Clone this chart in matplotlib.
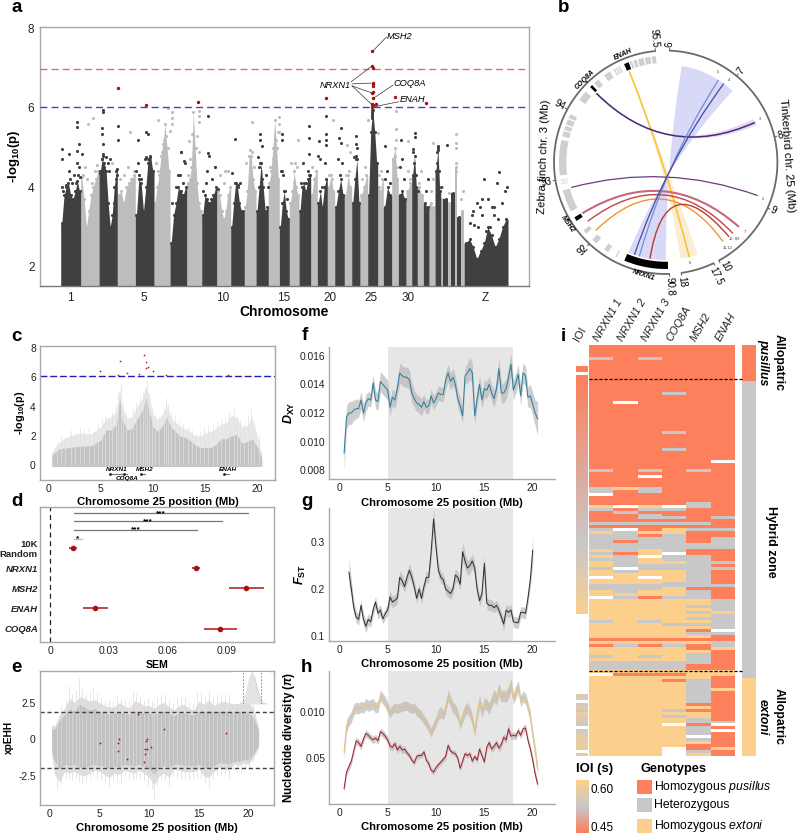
import numpy as np
import matplotlib
matplotlib.use('Agg')
import matplotlib.pyplot as plt
from matplotlib.colors import LinearSegmentedColormap, ListedColormap
from matplotlib.patches import PathPatch, Rectangle
from matplotlib.path import Path

plt.rcParams['font.family'] = ['Liberation Sans', 'DejaVu Sans']
plt.rcParams['mathtext.fontset'] = 'custom'
plt.rcParams['mathtext.rm'] = 'Liberation Sans'
plt.rcParams['mathtext.it'] = 'Liberation Sans:italic'
plt.rcParams['mathtext.bf'] = 'Liberation Sans:bold'
plt.rcParams['mathtext.bfit'] = 'Liberation Sans:italic:bold'

W, H = 800, 834
DARK = '#404040'
LIGHT = '#bdbdbd'
RED = '#a50f15'
C_PUS = '#fd7f5c'
C_HET = '#c8c8c8'
C_EXT = '#fdcf8c'

# panel a - chromosome borders and top of the solid mass, per chromosome
chrom_edges = [60.7, 80.7, 99, 117.3, 135.3, 154, 170, 186.7, 201.7, 216.7, 230.7, 244.3, 256, 268.3,
               279.3, 289.3, 299, 310.7, 317.3, 327.3, 334.7, 344.3, 351.7, 360, 367.7, 377.7, 383.3,
               391.7, 398.3, 406, 411.7, 417.3, 423.3, 429, 435, 440.7, 443.3, 447.7, 451, 454.7,
               457.3, 460.7, 464, 508]
chrom_tops = [
    [3.1, 3.8, 4.0, 4.1, 3.8, 3.7, 3.9, 4.15, 3.9], [4.25, 3.7, 3.0, 3.4, 3.8, 4.0, 4.2, 4.4],
    [4.35, 4.7, 4.6, 4.4, 3.6, 3.0, 3.3, 4.0, 4.4], [3.8, 3.9, 3.6, 4.0, 4.1, 4.2, 4.3],
    [3.3, 4.2, 4.1, 3.4, 4.0, 4.7, 4.8, 4.4], [3.6, 4.0, 4.3, 4.8, 5.1, 5.6, 5.0, 4.4],
    [2.6, 3.3, 3.6, 4.0, 3.9, 3.8, 4.0], [4.1, 4.2, 4.5, 5.9, 5.0, 4.1, 3.6, 3.4],
    [3.3, 3.8, 3.7, 3.6, 3.7, 3.8, 4.0], [3.9, 3.8, 3.4, 3.2, 3.4, 3.8, 4.0],
    [3.0, 3.6, 4.1, 4.0, 3.6, 3.4, 3.4], [3.5, 3.9, 4.8, 4.8, 4.2, 3.9],
    [3.4, 4.0, 4.6, 4.0, 3.4, 3.5], [4.1, 4.4, 5.0, 5.7, 5.0, 4.2],
    [3.0, 3.6, 3.9, 3.4, 3.2], [3.6, 3.9, 4.4, 4.0, 3.8],
    [3.4, 4.0, 4.1, 3.9, 4.2, 4.3], [3.8, 4.2, 4.4],
    [3.6, 3.9, 3.5, 4.0, 4.2], [4.0, 4.3, 3.9],
    [3.5, 3.9, 4.2, 3.8], [3.8, 4.3, 4.0],
    [3.6, 4.2, 4.7, 3.6], [3.8, 4.0, 4.3],
    [3.8, 5.4, 5.95, 5.4, 4.6], [4.0, 3.9, 4.2],
    [3.5, 4.0, 3.8], [4.7, 5.0, 4.2],
    [3.8, 3.9, 3.7], [3.9, 4.1],
    [4.3, 4.8, 4.0], [4.0, 3.8],
    [3.6, 3.5], [3.6, 3.5],
    [4.4, 5.0, 3.9], [3.7],
    [3.7], [3.6],
    [3.85], [4.5],
    [3.25], [3.4],
    [2.6, 2.7, 2.5, 2.2, 2.4, 2.6, 3.0, 2.8, 2.5, 2.7, 3.0, 3.2],
]
a_tick_pos = [70, 143.3, 222.3, 284, 329.7, 370.7, 407.7, 485.7]
a_tick_lab = ['1', '5', '10', '15', '20', '25', '30', 'Z']
a_dark_x = [62.3, 62.3, 69.3, 77.3, 77.3, 79.3, 77.3, 81.7, 102.7, 102.7, 101.7, 101.7, 103.3, 103.3, 118, 118,
            138.3, 146, 148.3, 181, 208.3, 235.3, 208.3, 184.3, 260, 260, 261.7, 281.7, 282.3, 282.3, 308.7,
            308.7, 309, 326, 326, 326, 326, 319.3, 340.7, 339.3, 340.7, 356, 356, 356, 385, 401, 415, 415,
            413.3, 437.7, 437.7, 447.3, 484, 499, 496.7, 481.7, 488.3, 372, 372, 372, 372, 372, 472, 477, 494,
            62, 63, 66, 70, 72, 74, 76, 78, 79, 80, 69, 77,
            100, 102, 103, 104, 106, 108, 109, 110, 117, 117, 116, 115, 114,
            136, 138, 139, 141, 145, 146, 148, 150, 152, 149,
            172, 176, 178, 180, 183, 185, 181, 203, 206, 207, 209, 212, 215, 218,
            235, 238, 240, 232, 258, 259, 260, 262, 266, 268, 281, 283, 285, 287,
            301, 303, 306, 308, 309, 318, 320, 322, 325, 338, 340, 342, 354, 356, 357,
            385, 387, 390, 400, 402, 404, 413, 414, 416, 418, 426, 428, 437, 437, 439, 441,
            470, 474, 478, 482, 486, 490, 494, 498, 502, 505, 507, 473, 480, 492]
a_dark_y = [4.96, 4.7, 4.83, 5.65, 5.52, 5.08, 4.92, 4.83, 5.9, 5.95, 5.48, 5.35, 5.1, 4.85, 5.55, 5.2,
            5.2, 5.38, 5.33, 4.9, 5.8, 5.22, 4.87, 4.65, 5.33, 5.2, 5.05, 5.33, 5.2, 4.4, 5.55,
            5.23, 4.85, 5.8, 5.33, 5.2, 5.07, 5.17, 5.5, 5.25, 5.12, 5.3, 5.08, 4.8, 5.05, 5.2, 5.37, 5.27,
            4.96, 5.03, 4.95, 5.07, 4.22, 4.39, 4.1, 3.7, 3.7, 5.95, 5.9, 5.85, 5.8, 5.75, 3.3, 3.6, 3.5,
            4.0, 3.9, 4.05, 4.2, 4.1, 4.3, 4.1, 4.3, 4.5, 4.25, 4.4, 4.6,
            4.4, 4.7, 4.8, 4.5, 4.75, 4.6, 4.4, 4.7, 4.3, 4.45, 4.2, 4.0, 3.6,
            4.4, 4.6, 4.3, 4.2, 4.7, 4.75, 4.6, 4.75, 4.4, 4.5,
            3.6, 4.0, 4.3, 4.3, 4.1, 4.6, 4.9, 3.9, 4.1, 4.4, 4.8, 4.2, 4.5, 3.95,
            4.1, 4.05, 4.1, 4.35, 4.75, 4.5, 4.6, 4.2, 4.3, 4.0, 4.4, 4.3, 3.9, 3.7,
            4.1, 4.6, 4.1, 4.4, 4.3, 4.8, 4.7, 4.0, 4.6, 4.7, 4.3, 4.6, 4.75, 4.7, 5.0,
            4.2, 4.4, 4.1, 4.5, 4.7, 4.2, 4.9, 4.6, 4.3, 3.9, 3.9, 4.2, 4.9, 4.6, 4.4, 4.0,
            3.1, 3.05, 3.0, 3.3, 2.9, 3.0, 3.3, 3.2, 3.6, 3.9, 4.0, 3.4, 3.5, 3.5]
a_light_x = [88.3, 93.3, 130, 158.3, 167.7, 171.7, 171.7, 171.7, 170, 199.3, 199.3, 199.3, 197.3, 189.3, 191.7,
             252, 279.3, 279.3, 279.3, 298.3, 333.3, 346.7, 368.3, 377.7, 395.7, 395.7, 395.7, 408.3, 433.3,
             455.7, 455.7, 112, 150, 215, 225, 295, 350,
             83, 85, 87, 92, 95, 97, 120, 124, 128, 132, 134, 156, 158, 162, 164, 166, 168, 188, 190, 194, 196,
             199, 220, 224, 228, 246, 250, 252, 254, 270, 273, 276, 278, 291, 294, 297, 312, 315, 329, 332, 346,
             349, 362, 365, 379, 381, 393, 395, 397, 408, 410, 419, 421, 431, 433, 442, 449, 456, 456, 456, 461, 463]
a_light_y = [5.58, 5.75, 5.4, 5.7, 6.0, 5.9, 5.75, 5.6, 5.42, 5.92, 5.8, 5.65, 5.3, 5.17, 5.33,
             5.64, 5.78, 5.6, 5.4, 5.18, 5.7, 5.07, 5.7, 5.37, 5.92, 5.47, 5.2, 5.17, 5.12,
             5.35, 5.12, 4.6, 4.7, 4.5, 4.4, 4.6, 4.9,
             4.3, 4.5, 4.2, 4.1, 4.4, 4.55, 4.2, 4.3, 4.5, 4.2, 4.4, 4.6, 4.4, 4.9, 5.2, 5.3, 5.0, 4.3, 4.7, 4.7, 5.0,
             4.9, 4.3, 4.1, 4.4, 4.6, 4.95, 4.9, 4.5, 4.5, 4.7, 5.2, 5.4, 4.6, 4.1, 4.5, 4.5, 4.2, 4.3, 4.2, 4.3,
             4.4, 4.2, 4.5, 4.3, 4.4, 4.7, 4.8, 4.5, 4.4, 4.2, 4.1, 4.4, 3.9, 4.2, 4.0, 3.85, 5.0, 4.6, 4.4, 3.7, 3.9]
a_red_x = [118.3, 146, 198.3, 326.3, 395, 426, 372.3, 372.3, 372.8, 372.6, 372.6, 372.6, 372, 373, 372.5, 372,
           373, 372.3, 375.7]
a_red_y = [6.5, 6.08, 6.15, 6.24, 6.28, 6.12, 7.42, 7.05, 7.0, 6.62, 6.6, 6.55, 6.38, 6.39, 6.24, 6.1, 6.08, 6.03, 6.1]

# panel c
c_x = [0.3, 1, 2, 3, 4, 5, 5.5, 6, 6.5, 6.8, 7, 7.5, 8, 8.5, 9, 9.3, 9.7, 10, 10.5, 11, 11.3, 11.7, 12, 12.5,
       13, 13.5, 14, 14.5, 15, 15.5, 16, 16.5, 17, 17.5, 18, 18.5, 19, 19.5, 20, 20.4]
c_solid = [0.7, 1.1, 1.2, 1.3, 1.3, 1.7, 2.4, 2.4, 2.8, 4.6, 3.2, 2.4, 2.5, 3.2, 3.8, 4.6, 3.5, 2.6, 2.3, 2.8,
           3.3, 2.6, 2.4, 2.0, 1.9, 1.7, 1.4, 1.2, 1.2, 1.2, 1.4, 1.8, 1.8, 2.0, 2.1, 1.5, 1.6, 1.8, 1.2, 0.5]
c_faint = [0.9, 1.6, 2.0, 2.2, 2.1, 2.6, 3.2, 3.3, 3.7, 5.3, 4.1, 3.2, 3.3, 4.1, 4.6, 5.4, 4.5, 3.4, 3.1, 3.6,
           4.1, 3.3, 3.0, 2.7, 2.5, 2.3, 2.0, 2.0, 2.2, 2.3, 2.5, 2.8, 2.9, 3.4, 3.3, 2.6, 2.7, 3.3, 1.9, 0.8]
c_sp_x = [0.8, 1.2, 1.6, 2.1, 2.5, 3, 3.4, 3.9, 4.3, 4.7, 5.1, 5.4, 5.8, 6.1, 6.4, 6.6, 6.9, 7.1, 7.4, 7.8, 8.1, 8.4,
          8.7, 9.0, 9.2, 9.4, 9.6, 9.9, 10.2, 10.6, 11, 11.2, 11.4, 11.7, 12.1, 12.5, 12.9, 13.3, 13.7, 14.1, 14.5,
          14.9, 15.3, 15.7, 16.1, 16.5, 16.9, 17.3, 17.7, 18, 18.3, 18.7, 19.1, 19.4, 19.7, 20.1]
c_sp_y = [1.5, 2.0, 1.9, 2.4, 2.2, 2.6, 2.4, 2.5, 2.3, 2.8, 3.2, 3.4, 3.1, 3.6, 4.1, 5.0, 5.6, 4.4, 3.5, 3.3, 3.8, 4.3,
          4.7, 5.0, 5.4, 5.8, 4.9, 3.9, 3.5, 3.3, 4.0, 4.6, 4.2, 3.6, 3.4, 3.0, 2.8, 2.6, 2.4, 2.2, 2.3,
          2.6, 2.7, 2.8, 3.0, 3.2, 3.2, 3.6, 3.9, 3.3, 3.0, 2.9, 3.4, 3.9, 2.6, 2.0]
c_red_x = [4.94, 6.8, 6.67, 7.53, 8.64, 9.15, 9.3, 9.3, 9.47, 9.95, 11.2, 17.16]
c_red_y = [6.42, 7.13, 6.15, 6.31, 6.2, 7.52, 7.08, 6.67, 6.7, 6.45, 6.17, 6.15]
gene_names = ['NRXN1', 'COQ8A', 'MSH2', 'ENAH']
gene_x = [6.5, 7.5, 9.15, 17.15]
gene_y = [-0.34, -0.92, -0.34, -0.34]
gene_start = [5.87, 7.2, 8.8, 16.8]
gene_end = [7.5, 7.5, 9.2, 17.3]

# panel d
d_labels = ['COQ8A', 'ENAH', 'MSH2', 'NRXN1', '10K\nRandom']
d_mean = [0.0867, 0.0228, 0.1, 0.0743, 0.0117]
d_low = [0.0783, 0.0165, 0.091, 0.0722, 0.0097]
d_high = [0.0954, 0.0295, 0.1092, 0.0765, 0.0137]
d_br_end = [0.1007, 0.0874, 0.0748, 0.016]
d_br_y = [5.72, 5.32, 4.9, 4.45]
d_br_txt = ['***', '***', '***', '*']

# panel e
e_x = [0.2, 0.5, 1, 1.5, 2, 2.5, 3, 3.5, 4, 4.5, 5, 5.5, 6, 6.5, 7, 7.5, 8, 8.5, 9, 9.5, 10, 10.5, 11, 11.5,
       12, 12.5, 13, 13.5, 14, 14.5, 15, 15.5, 16, 16.5, 17, 17.5, 18, 18.5, 19, 19.5, 20, 20.5, 21]
e_up = [1.0, 0.9, 1.7, 2.1, 2.8, 2.5, 2.9, 2.8, 2.6, 2.7, 2.5, 2.3, 2.2, 2.2, 2.5, 2.3, 2.1, 2.6, 2.5, 2.3, 2.3,
        2.1, 2.4, 2.5, 2.2, 2.0, 2.3, 2.4, 2.1, 2.0, 2.6, 2.4, 2.7, 2.3, 2.5, 2.6, 2.5, 2.4, 2.6, 2.4, 2.5, 2.1, 0.8]
e_low = [-1.0, -2.4, -2.9, -2.2, -2.3, -2.2, -2.4, -2.5, -2.3, -2.1, -2.2, -2.4, -2.6, -2.3, -2.4, -2.1, -2.2,
         -2.3, -2.1, -2.3, -2.6, -3.1, -2.5, -2.3, -2.6, -2.0, -2.1, -2.2, -2.2, -2.2, -2.0, -2.5, -2.6, -2.2,
         -1.9, -2.0, -2.1, -1.7, -1.8, -1.6, -1.7, -1.2, -0.6]
e_core_up = [0.7, 0.7, 1.3, 1.7, 2.1, 1.9, 2.4, 2.2, 2.0, 2.1, 1.9, 1.8, 1.7, 1.8, 1.9, 1.8, 1.7, 1.9, 1.9, 1.8, 1.8,
             1.7, 1.8, 1.9, 1.8, 1.6, 1.8, 1.8, 1.7, 1.7, 1.9, 1.8, 2.0, 1.8, 1.9, 1.9, 1.9, 1.8, 1.9, 1.8, 1.8, 1.5, 0.6]
e_core_low = [-0.8, -1.5, -2.0, -1.7, -1.8, -1.7, -1.9, -1.9, -1.8, -1.7, -1.8, -1.8, -2.0, -1.8, -1.9, -1.7, -1.8,
              -1.8, -1.7, -1.9, -2.0, -2.4, -1.9, -1.8, -1.9, -1.7, -1.7, -1.8, -1.8, -1.8, -1.7, -1.9, -2.0, -1.8,
              -1.6, -1.6, -1.7, -1.5, -1.5, -1.4, -1.4, -1.0, -0.4]
e_sp_x = [0.7, 1.1, 1.6, 1.9, 2.2, 2.6, 3.0, 3.3, 3.7, 4.1, 4.4, 4.8, 5.2, 5.6, 6.0, 6.4, 6.8, 7.2, 7.6, 8, 8.4, 8.7,
          9.1, 9.5, 9.9, 10.3, 10.5, 10.8, 11.2, 11.6, 12, 12.4, 12.8, 13.2, 13.6, 14, 14.4, 14.8, 15.2, 15.6, 16,
          16.4, 16.8, 17.2, 17.6, 18, 18.4, 18.8, 19.2, 19.6, 20, 20.4]
e_sp_hi = [1.2, 2.2, 2.7, 3.6, 3.1, 3.3, 4.2, 3.4, 3.0, 3.2, 3.5, 3.1, 2.8, 2.6, 2.7, 2.6, 3.0, 2.8, 2.7, 2.6, 3.3, 3.1,
           2.9, 2.7, 2.8, 2.6, 2.5, 2.9, 3.1, 3.0, 2.7, 2.5, 2.8, 2.9, 2.9, 2.5, 2.4, 3.2, 3.2, 2.9, 3.3, 2.8, 3.0,
           3.1, 3.1, 3.0, 2.8, 2.9, 3.2, 2.9, 3.0, 2.4]
e_sp_lo = [-3.4, -3.0, -2.6, -2.7, -2.8, -2.7, -2.9, -3.0, -2.8, -2.6, -2.5, -2.7, -2.8, -2.9, -3.2, -2.8, -2.9, -3.0,
           -2.5, -2.7, -2.8, -2.7, -2.6, -2.8, -3.2, -3.4, -4.1, -3.1, -2.8, -2.8, -3.1, -2.5, -2.6, -2.7, -2.7, -2.7,
           -2.7, -2.6, -2.6, -3.0, -3.3, -2.7, -2.4, -2.4, -2.3, -2.6, -2.1, -2.2, -2.2, -2.1, -2.0, -1.5]
e_red_x = [5.02, 6.93, 6.83, 6.83, 7.74, 8.88, 9.78, 9.65, 9.6, 9.78, 9.58, 9.45, 10.2, 11.5, 17.76]
e_red_y = [-0.23, 0.02, -0.27, -0.77, -1.32, 1.7, 0.05, -0.14, -0.64, -0.64, -1.0, -1.55, -0.5, 0.7, 0.45]
dens_x = [-2.6, -2.2, -1.9, -1.5, -1, -0.5, 0, 0.5, 1, 1.5, 1.9, 2.4, 3]
dens_y = [0.01, 0.04, 0.08, 0.22, 0.5, 0.85, 1, 0.85, 0.55, 0.25, 0.08, 0.03, 0.01]

# panels f, g, h
dxy = [.0092, .0117, .0120, .0120, .0122, .0123, .0123, .0129, .0120, .0127, .0130, .0129, .0141, .0129, .0128,
       .0142, .0140, .0138, .0136, .0124, .0131, .0129, .0137, .0148, .0146, .0145, .0145, .0143, .0134, .0130,
       .0127, .0126, .0124, .0128, .0124, .0125, .0132, .0127, .0130, .0134, .0133, .0133, .0143, .0148, .0142,
       .0145, .0140, .0130, .0125, .0118, .0146, .0148, .0151, .0148, .0118, .0130, .0140, .0129, .0137, .0136,
       .0140, .0134, .0130, .0137, .0151, .0134, .0134, .0137, .0145, .0154, .0136, .0141, .0147, .0132, .0148,
       .0146, .0131, .0132, .0126, .0120, .0116]
dxy_se = [.0012, .0008, .0008, .0008, .0007, .0007, .0006, .0006, .0006, .0006, .0005, .0005, .0006, .0006, .0006,
          .0007, .0007, .0007, .0007, .0006, .0006, .0006, .0006, .0007, .0007, .0007, .0007, .0007, .0007, .0006,
          .0006, .0006, .0006, .0005, .0005, .0005, .0005, .0005, .0005, .0005, .0005, .0005, .0006, .0006, .0006,
          .0006, .0006, .0006, .0006, .0005, .0006, .0007, .0008, .0007, .0006, .0006, .0006, .0006, .0006, .0006,
          .0006, .0006, .0006, .0006, .0008, .0007, .0007, .0007, .0008, .0008, .0007, .0007, .0007, .0007, .0007,
          .0007, .0007, .0008, .0008, .0009, .0012]
fst = [.236, .20, .16, .14, .135, .165, .135, .12, .135, .13, .155, .172, .148, .155, .136, .147, .155, .183, .172,
       .176, .18, .225, .218, .205, .225, .24, .225, .205, .18, .20, .18, .205, .225, .225, .28, .35, .29, .24, .225,
       .22, .20, .195, .19, .20, .23, .225, .21, .28, .26, .245, .25, .26, .245, .20, .175, .19, .255, .17, .165,
       .165, .16, .165, .155, .14, .125, .155, .15, .155, .13, .128, .128, .15, .15, .148, .18, .22, .283]
fst_se = [.03, .02, .014, .012, .012, .012, .012, .014, .012, .012, .012, .012, .012, .012, .011, .011, .012, .014,
          .012, .012, .012, .014, .014, .012, .014, .014, .014, .012, .012, .012, .012, .012, .012, .012, .018, .024,
          .02, .014, .012, .012, .012, .012, .012, .012, .014, .012, .012, .02, .018, .016, .016, .016, .014, .012,
          .012, .012, .018, .012, .012, .012, .011, .011, .011, .011, .014, .012, .012, .012, .012, .012, .012, .012,
          .012, .012, .014, .016, .03]
pi_ext = [.0056, .0085, .0091, .0095, .0103, .0105, .0104, .0106, .0105, .0109, .0107, .0108, .0109, .0105, .0106,
          .0118, .0115, .0111, .0105, .0099, .0103, .0105, .0104, .0105, .0106, .0107, .0107, .0105, .0104, .0105,
          .0101, .0099, .0096, .0092, .0088, .0083, .0078, .0085, .0090, .0098, .0100, .0097, .0105, .0118, .0112,
          .0105, .0103, .0097, .0086, .0095, .0102, .0105, .0100, .0092, .0078, .0098, .0112, .0100, .0110, .0108,
          .0104, .0112, .0118, .0114, .0125, .0117, .0118, .0117, .0122, .0130, .0115, .0122, .0128, .0112, .0117,
          .0115, .0106, .0095, .0075, .0058, .0038]
pi_pus = [.0017, .0035, .0041, .0047, .0058, .0069, .0067, .0063, .0071, .0077, .0075, .0072, .0070, .0072, .0069,
          .0079, .0077, .0074, .0070, .0063, .0062, .0066, .0059, .0063, .0059, .0060, .0056, .0053, .0048, .0045,
          .0052, .0053, .0053, .0057, .0048, .0044, .0037, .0035, .0040, .0043, .0046, .0049, .0052, .0064, .0058,
          .0056, .0055, .0050, .0039, .0047, .0055, .0053, .0055, .0047, .0052, .0048, .0060, .0053, .0046, .0062,
          .0067, .0060, .0063, .0067, .0061, .0065, .0073, .0070, .0082, .0074, .0075, .0074, .0080, .0075, .0082,
          .0083, .0070, .0060, .0048, .0033, .0022]
pi_ext_se = [.0008, .0007, .0006, .0006, .0006, .0006, .0006, .0006, .0006, .0006, .0006, .0006, .0006, .0006, .0006,
             .0006, .0006, .0006, .0006, .0005, .0005, .0005, .0005, .0005, .0005, .0005, .0005, .0005, .0005, .0005,
             .0005, .0005, .0005, .0005, .0005, .0005, .0005, .0005, .0005, .0006, .0006, .0005, .0006, .0006, .0006,
             .0006, .0006, .0005, .0005, .0006, .0006, .0006, .0006, .0006, .0005, .0006, .0007, .0006, .0006, .0006,
             .0006, .0006, .0007, .0006, .0007, .0006, .0006, .0006, .0007, .0007, .0006, .0007, .0007, .0006, .0006,
             .0006, .0006, .0006, .0006, .0006, .0006]
pi_pus_se = [.0004, .0004, .0004, .0004, .0004, .0004, .0004, .0004, .0004, .0004, .0004, .0004, .0004, .0004, .0004,
             .0004, .0004, .0004, .0004, .0004, .0004, .0004, .0004, .0004, .0004, .0004, .0003, .0003, .0003, .0003,
             .0003, .0003, .0003, .0003, .0003, .0003, .0003, .0003, .0003, .0003, .0003, .0003, .0004, .0004, .0003,
             .0003, .0003, .0003, .0003, .0003, .0003, .0003, .0003, .0003, .0003, .0003, .0004, .0003, .0003, .0004,
             .0004, .0004, .0004, .0004, .0004, .0004, .0004, .0004, .0005, .0004, .0004, .0004, .0004, .0004, .0004,
             .0004, .0004, .0004, .0004, .0004, .0004]

# panel i - genotypes, (number of rows, one letter per marker), N = missing
geno_markers = ['NRXN1 1', 'NRXN1 2', 'NRXN1 3', 'COQ8A', 'MSH2', 'ENAH']
geno_runs = [
    (4, 'PPPPPP'), (1, 'HPHPPP'), (11, 'PPPPPP'), (1, 'PPPHPP'), (2, 'PPPPPP'), (1, 'PNPPPP'), (9, 'PPPPPP'),
    (1, 'PPPHPP'), (5, 'PPPPPP'), (1, 'PPPHPP'), (3, 'PPPPPP'), (1, 'PPPPPN'), (2, 'PPPPPP'), (1, 'HPHPHP'),
    (1, 'PPPPPP'), (1, 'PPNPPP'), (3, 'PPPPPP'), (1, 'HEHPPP'), (1, 'HPHPPP'), (1, 'NPPPPP'), (2, 'PPPPPP'),
    (1, 'PPPPHP'), (1, 'ENENHP'), (1, 'HPHHPP'), (1, 'PHPPPP'), (1, 'PPHPPP'), (1, 'PPHHPH'), (1, 'PPPPPP'),
    (1, 'HHHHHP'), (1, 'PPPPPP'), (1, 'HNPEHH'), (1, 'EHEEPP'), (1, 'HHPHPP'), (1, 'HHHHPH'), (1, 'HPHHPH'),
    (2, 'HHHHHH'), (1, 'EHEHPP'), (1, 'HPENPP'), (1, 'EHNHHP'), (1, 'HHEHHP'), (1, 'EHEEHH'), (1, 'EHHHHP'),
    (1, 'HNHHHH'), (1, 'EHEEHP'), (1, 'EEEEHP'), (1, 'NENEHP'), (1, 'EEEEHP'), (1, 'EEEHHP'), (1, 'HHHHHH'),
    (1, 'HHHEPP'), (1, 'EHEEHP'), (1, 'EEEEHP'), (1, 'NHPHHP'), (2, 'EEEEEH'), (1, 'EEEEHH'), (1, 'EEEEEH'),
    (1, 'EEEEHE'), (1, 'EEEEEH'), (1, 'EEEEHH'), (1, 'HEHEEH'), (1, 'EEEHHH'), (1, 'EEEEEH'), (1, 'EEEEPN'),
    (1, 'EEEEHH'), (1, 'EEEEEP'), (1, 'PPPPPP'), (1, 'EEEEEH'), (1, 'PHPHPH'), (1, 'EEEEPE'), (1, 'EEEEEP'),
    (1, 'EEEEHP'), (1, 'HEHEHP'), (1, 'EEEEHP'), (1, 'HHHHHP'), (2, 'HHHHPP'), (1, 'EEEEEE'), (1, 'NPPPEE'),
    (1, 'EEEEEP'), (1, 'EEEPHP'), (2, 'EEEEHP'), (1, 'EEEEHE'), (4, 'EEEEHP'), (1, 'EEEEPP'), (1, 'EEEEEP'),
    (1, 'EEEHPP'), (1, 'EEEEEP'), (1, 'EEEHEP'), (1, 'EEEEHP'), (1, 'EEEEHH'), (1, 'EEENPN'), (1, 'EEEEHP'),
    (1, 'EEEEHN'), (1, 'EEEEHP'), (1, 'EEEENP'), (1, 'EEEEHP'), (1, 'EEEEEP'), (1, 'EEEEPP'), (1, 'EEENPE'),
    (1, 'EEENHP'), (1, 'EEENEP'),
]
ioi_top = [0.45, 0.45, np.nan]
ioi_hybrid = [.450, .452, .453, .454, .456, .457, .458, .460, .461, .462, .464, .465, .466, .468, .469, .470, .472,
              .473, .474, .476, .477, .478, .480, .481, .482, .484, .485, .486, .488, .489, .490, .492, .493, .494,
              .496, .497, .498, .500, .501, .502, .504, .505, .506, .508, .509, .510, .512, .513, .514, .516, .517,
              .518, .520, .521, .523, .525, .527, .529, .531, .534, .536, .539, .541, .544, .546, .549, .552, .555,
              .558, .561, .564, .567, .570, .573, .576, .579, .582, .585, .588, .592, .598]
ioi_extoni = [.55, .55, np.nan, .54, .56, .53, .58, .57, .55, .54, .53, np.nan, .54, .55, .56, .57, .56, .58, .57,
              np.nan, .56]
group_sizes = [12, 99, 26]

fig = plt.figure(figsize=(W / 100, H / 100), dpi=100, facecolor='white')


def axes_px(left, top, right, bottom):
    return fig.add_axes([left / W, 1 - bottom / H, (right - left) / W, (bottom - top) / H])


def text_px(x, y, s, **kw):
    kw.setdefault('ha', 'left')
    kw.setdefault('va', 'center')
    return fig.text(x / W, 1 - y / H, s, **kw)


def frame(ax, color='#a8a8a8'):
    for s in ax.spines.values():
        s.set_color(color)
        s.set_linewidth(1.0)
    ax.tick_params(length=0, labelsize=7.4, pad=3, colors='#222222')


for letter, x, y in [('a', 11, 8), ('b', 558, 8), ('c', 11, 337), ('d', 11, 501), ('e', 11, 667),
                     ('f', 302, 336), ('g', 301, 501), ('h', 301, 667), ('i', 561, 337)]:
    text_px(x, y, letter, fontsize=13.5, fontweight='bold')

# ---- a: manhattan
ax = axes_px(40, 27, 529, 286)
for i, tops in enumerate(chrom_tops):
    col = DARK if i % 2 == 0 else LIGHT
    z = 2 if i % 2 == 0 else 1
    lo, hi = chrom_edges[i], chrom_edges[i + 1]
    mids = np.linspace(lo, hi, len(tops) + 1)[:-1] + (hi - lo) / len(tops) / 2
    xs = np.r_[lo, mids, hi]
    ys = np.r_[tops[0], tops, tops[-1]]
    ax.fill_between(xs, 1.4, ys, color=col, lw=0, zorder=z)
    ax.scatter(mids, tops, s=5, color=col, lw=0, zorder=z)
ax.scatter(a_light_x, a_light_y, s=5, color=LIGHT, lw=0, zorder=1)
ax.scatter(a_dark_x, a_dark_y, s=5, color=DARK, lw=0, zorder=2)
ax.axhline(6.97, color='#e8686c', lw=1, ls=(0, (5, 3)), zorder=3)
ax.axhline(6.02, color='#4040c8', lw=1, ls=(0, (5, 3)), zorder=3)
ax.scatter(a_red_x, a_red_y, s=6, color=RED, lw=0, zorder=5)
for x0, y0, x1, y1 in [(372.6, 7.42, 386.5, 7.78), (351, 6.65, 371, 7.03), (352, 6.6, 371, 6.62),
                       (352, 6.55, 371, 6.38), (352, 6.55, 371, 6.1), (373.5, 6.24, 393, 6.57),
                       (375, 6.03, 398.5, 6.15)]:
    ax.plot([x0, x1], [y0, y1], color='#333333', lw=0.5, zorder=6)
for x, y, s in [(386.5, 7.78, 'MSH2'), (393, 6.61, 'COQ8A'), (399.5, 6.2, 'ENAH')]:
    ax.text(x, y, s, fontsize=6.7, style='italic', ha='left', va='center', zorder=7)
ax.text(351, 6.56, 'NRXN1', fontsize=6.7, style='italic', ha='right', va='center', zorder=7)
ax.set_xlim(40, 529)
ax.set_ylim(1.52, 8.03)
ax.set_xticks(a_tick_pos, a_tick_lab)
ax.set_yticks([2, 4, 6, 8])
frame(ax)
ax.spines['bottom'].set_color('#777777')
ax.tick_params(labelsize=8.5, pad=4)
ax.set_ylabel(r'-log$_{\mathbf{10}}$(p)', fontsize=9.5, fontweight='bold', labelpad=4)
ax.set_xlabel('Chromosome', fontsize=10, fontweight='bold', labelpad=1)

# ---- b: circos


def zf_angle(mb):
    return 178 + 37.6 * (np.asarray(mb, dtype=float) - 90.8)


def tb_angle(mb):
    mb = np.asarray(mb, dtype=float)
    return np.where(mb <= 10, 2 + 37.4 * (mb - 6), 154.5 + 35 * (mb - 17.5))


def polar_xy(angle, r):
    a = np.radians(angle)
    return r * np.sin(a), r * np.cos(a)


zf_blocks_grey = [(91.58, 91.6), (91.72, 91.79), (91.93, 92.01), (92.13, 92.19), (92.52, 92.84), (92.93, 92.94),
                  (92.96, 92.97), (92.99, 93.0), (93.06, 93.57), (93.62, 93.7), (93.72, 93.78), (93.8, 93.88),
                  (93.9, 93.96), (94.2, 94.35), (94.52, 94.6), (94.7, 94.8), (94.86, 94.88), (94.9, 94.92),
                  (94.94, 94.96), (95.12, 95.15), (95.17, 95.22), (95.24, 95.32), (95.34, 95.42), (95.44, 95.5)]
zf_blocks_black = [(90.82, 91.46), (92.36, 92.42), (94.44, 94.48), (95.03, 95.1)]
zf_ticks = [90.8, 92, 93, 94, 95.5]
tb_ticks = [6, 7, 8, 9, 10, 17.5, 18]
link_zf = [95.06, 94.44, 92.85, 92.41, 92.26, 92.07, 91.1, 91.27, 91.35]
link_tb = [17.83, 7.71, 8.885, 9.46, 9.6, 9.8, 9.68, 6.82, 6.92]
link_col = ['#f8c537', '#4b2a7d', '#6b3a80', '#c5687f', '#c2453f', '#ee9530', '#bb3a2c', '#6f8fd8', '#4a4a9c']
link_lw = [1.2, 1.1, 0.9, 1.5, 1.0, 1.0, 1.0, 0.9, 0.9]
small_lab = ['5', '4', '3', '2', '7', '10', '8,9', '11,12', '6']
small_tb = [6.75, 6.95, 7.7, 8.9, 9.46, 9.68, 9.6, 9.8, 17.85]
small_r = [0.93, 0.93, 0.93, 0.93, 0.945, 0.90, 0.935, 0.945, 0.93]

R_PX = 111.7
CX, CY = 665.7, 162.3
SPAN = 150
ax = axes_px(CX - SPAN, CY - SPAN, CX + SPAN, CY + SPAN)
ax.set_xlim(-SPAN / R_PX, SPAN / R_PX)
ax.set_ylim(-SPAN / R_PX, SPAN / R_PX)
ax.axis('off')
ax.patch.set_alpha(0)
R_LINK = 0.875


def ribbon(ang_a0, ang_a1, ang_b0, ang_b1, color, alpha):
    arc_a = np.linspace(ang_a0, ang_a1, 20)
    arc_b = np.linspace(ang_b0, ang_b1, 20)
    ax_, ay_ = polar_xy(arc_a, R_LINK)
    bx_, by_ = polar_xy(arc_b, R_LINK)
    verts = list(zip(ax_, ay_)) + [(0, 0)] + list(zip(bx_, by_)) + [(0, 0), (ax_[0], ay_[0])]
    codes = [Path.MOVETO] + [Path.LINETO] * 19 + [Path.CURVE3, Path.CURVE3] + [Path.LINETO] * 19 + [Path.CURVE3, Path.CURVE3]
    ax.add_patch(PathPatch(Path(verts, codes), facecolor=color, edgecolor='none', alpha=alpha))


ribbon(zf_angle(91.45), zf_angle(90.85), tb_angle(6.2), tb_angle(7.1), '#b9b9f2', 0.55)
ribbon(zf_angle(95.05), zf_angle(95.07), tb_angle(17.68), tb_angle(17.98), '#fae6c4', 0.7)
ribbon(zf_angle(94.42), zf_angle(94.46), tb_angle(7.65), tb_angle(7.76), '#c9b6e4', 0.5)

for zf, tb, col, lw in zip(link_zf, link_tb, link_col, link_lw):
    p0 = polar_xy(zf_angle(zf), R_LINK)
    p1 = polar_xy(tb_angle(tb), R_LINK)
    ax.add_patch(PathPatch(Path([p0, (0, 0), p1], [Path.MOVETO, Path.CURVE3, Path.CURVE3]), facecolor='none',
                           edgecolor=col, lw=lw))

for blocks, col in [(zf_blocks_grey, '#cfcfcf'), (zf_blocks_black, 'black')]:
    for lo, hi in blocks:
        arc = np.linspace(zf_angle(lo), zf_angle(hi), 12)
        ox, oy = polar_xy(arc, 0.955)
        ix, iy = polar_xy(arc[::-1], 0.89)
        ax.fill(np.r_[ox, ix], np.r_[oy, iy], color=col, lw=0)

for ang_lo, ang_hi in [(zf_angle(90.8), zf_angle(95.5)), (tb_angle(6), tb_angle(10)), (tb_angle(17.5), tb_angle(18))]:
    arc = np.linspace(ang_lo, ang_hi, 100)
    ox, oy = polar_xy(arc, 1.0)
    ax.plot(ox, oy, color='#6a6a6a', lw=1.3, solid_capstyle='butt')

for angs, labs in [(zf_angle(zf_ticks), zf_ticks), (tb_angle(tb_ticks), tb_ticks)]:
    for ang, lab in zip(angs, labs):
        tx, ty = polar_xy(np.array([ang, ang]), np.array([1.0, 1.02]))
        ax.plot(tx, ty, color='#6a6a6a', lw=0.8)
        # the two labels either side of the axis gap are pushed apart a little
        shift = {10: -1.5, 17.5: 2.0}.get(lab, 0)
        lx, ly = polar_xy(ang + shift, 1.03)
        if ang < 180:
            ax.text(lx, ly, str(lab), fontsize=7, rotation=90 - ang, rotation_mode='anchor', ha='left', va='center')
        else:
            ax.text(lx, ly, str(lab), fontsize=7, rotation=270 - ang, rotation_mode='anchor', ha='right', va='center')

for lab, tb, r in zip(small_lab, small_tb, small_r):
    lx, ly = polar_xy(tb_angle(tb), r)
    ax.text(lx, ly, lab, fontsize=2.8, ha='center', va='center', color='#333333')

for name, mb, rot in [('ENAH', 95.06, 25), ('COQ8A', 94.46, 45), ('MSH2', 92.39, -55), ('NRXN1', 91.15, -18)]:
    lx, ly = polar_xy(zf_angle(mb), 1.035 if name != 'NRXN1' else 1.03)
    ax.text(lx, ly, name, fontsize=5, fontweight='bold', style='italic', rotation=rot, ha='center', va='center')
text_px(787, 156, 'Tinkerbird chr. 25 (Mb)', fontsize=8.2, rotation=-86, ha='center')
text_px(544, 157, 'Zebra finch chr. 3 (Mb)', fontsize=8.2, rotation=88, ha='center')

# ---- c
ax = axes_px(40, 346, 275.3, 480)
ax.fill_between(c_x, -0.1, c_faint, color='#e8e8e8', lw=0)
ax.vlines(c_sp_x, 0, c_sp_y, color='#e2e2e2', lw=0.5)
ax.fill_between(c_x, -0.1, c_solid, color='#c4c4c4', lw=0)
ax.axhline(6.1, color='#2222bb', lw=1, ls=(0, (5, 2)))
ax.scatter(c_red_x, c_red_y, s=1.5, color='#c01020', lw=0, zorder=4)
for name, x, y, s0, s1 in zip(gene_names, gene_x, gene_y, gene_start, gene_end):
    ax.text(x, y, name, fontsize=4.6, fontweight='bold', style='italic', ha='center', va='center')
    ax.plot([s0, s1], [-0.6, -0.6], color='#777777', lw=0.8)
    ax.plot([s0], [-0.6], marker='.', ms=2, color='#222222')
ax.set_xlim(-0.83, 21.7)
ax.set_ylim(-1.03, 8.15)
ax.set_xticks([0, 5, 10, 15, 20])
ax.set_yticks([0, 2, 4, 6, 8])
frame(ax)
ax.set_ylabel(r'-log$_{\mathbf{10}}$(p)', fontsize=7.8, fontweight='bold', labelpad=2)
ax.set_xlabel('Chromosome 25 position (Mb)', fontsize=8.1, fontweight='bold', labelpad=2)

# ---- d
ax = axes_px(40, 507, 274, 642)
d_y = np.arange(len(d_labels))
ax.axvline(0, color='#222222', lw=0.9, ls=(0, (4, 3)))
ax.hlines(d_y, d_low, d_high, color='#c0353a', lw=1.3)
ax.scatter(d_mean, d_y, s=16, color=RED, lw=0, zorder=3)
for end, y, t in zip(d_br_end, d_br_y, d_br_txt):
    ax.plot([0.0121, end], [y, y], color='#777777' if t != '*' else '#bbbbbb', lw=0.9)
    ax.text((0.0121 + end) / 2, y - 0.02, t, fontsize=6, fontweight='bold', ha='center', va='center')
ax.set_xlim(-0.00525, 0.1141)
ax.set_ylim(-0.66, 6.02)
ax.set_xticks([0, 0.03, 0.06, 0.09], ['0', '0.03', '0.06', '0.09'])
ax.set_yticks(d_y, d_labels, fontweight='bold')
frame(ax)
ax.tick_params(axis='y', labelsize=6.8, pad=1.5)
for lab in ax.get_yticklabels()[:4]:
    lab.set_fontstyle('italic')
ax.set_xlabel('SEM', fontsize=7.6, fontweight='bold', labelpad=3)

# ---- e
ax = axes_px(40, 670.7, 273.5, 804.7)
ax.fill_between(e_x, e_low, e_up, color='#dedede', lw=0)
ax.vlines(e_sp_x, e_sp_lo, e_sp_hi, color='#dcdcdc', lw=0.5)
ax.fill_between(e_x, e_core_low, e_core_up, color='#c2c2c2', lw=0)
ax.axhline(1.86, color='#444444', lw=1, ls=(0, (3, 2)))
ax.axhline(-1.97, color='#444444', lw=1, ls=(0, (3, 2)))
ax.scatter(e_red_x, e_red_y, s=1.8, color='#c01020', lw=0, zorder=4)
ax.set_xlim(-0.97, 22.5)
ax.set_ylim(-4.45, 4.67)
ax.set_xticks([0, 5, 10, 15, 20])
ax.set_yticks([2.5, 0, -2.5], ['2.5', '0', '-2.5'])
frame(ax)
ax.set_ylabel('xpEHH', fontsize=7.3, fontweight='bold', labelpad=3)
ax.set_xlabel('Chromosome 25 position (Mb)', fontsize=8.1, fontweight='bold', labelpad=3)
ins = axes_px(233, 671.5, 270, 704)
ins.set_xlim(-4.07, 3.73)
ins.set_ylim(0, 1.03)
ins.fill_between(dens_x, 0, dens_y, color='#e3e3e3', lw=0)
ins.plot(dens_x, dens_y, color='#cfcfcf', lw=0.5)
ins.vlines([-1.9, 1.9], 0, 1.03, color='#777777', lw=0.6, ls=(0, (2, 2)))
ins.set_xticks([])
ins.set_yticks([])
for s in ins.spines.values():
    s.set_visible(False)


# ---- f, g, h
def window_axes(top, bottom, ymin, ymax):
    a = axes_px(329.3, top, 555, bottom)
    a.axvspan(5, 18, color='#e6e6e6', lw=0, zorder=0)
    a.set_xlim(-1.03, 22.3)
    a.set_ylim(ymin, ymax)
    a.set_xticks([0, 5, 10, 15, 20])
    frame(a)
    a.spines['top'].set_visible(False)
    a.spines['right'].set_visible(False)
    a.set_xlabel('Chromosome 25 position (Mb)', fontsize=8.1, fontweight='bold', labelpad=3)
    return a


def band_line(a, start, stop, y, se, color):
    y = np.array(y)
    se = np.array(se)
    x = np.linspace(start, stop, len(y))
    a.fill_between(x, y - se, y + se, color='#b5b5b5', alpha=0.65, lw=0, zorder=1)
    a.plot(x, y, color=color, lw=0.75, zorder=2)


ax = window_axes(346.7, 479.3, 0.00737, 0.01663)
band_line(ax, 0.5, 20.5, dxy, dxy_se, '#2f7f9f')
ax.set_yticks([0.008, 0.010, 0.012, 0.014, 0.016], ['0.008', '0.010', '0.012', '0.014', '0.016'])
ax.set_ylabel(r'$\mathbfit{D}_{\mathbf{XY}}$', fontsize=9, labelpad=2)

ax = window_axes(508.3, 641, 0.0887, 0.3728)
band_line(ax, 1, 20, fst, fst_se, '#333333')
ax.set_yticks([0.1, 0.2, 0.3], ['0.1', '0.2', '0.3'])
ax.set_ylabel(r'$\mathbfit{F}_{\mathbf{ST}}$', fontsize=9, labelpad=2)

ax = window_axes(671, 804, 0.00003, 0.01449)
band_line(ax, 0.5, 20.5, pi_ext, pi_ext_se, '#e8c27a')
band_line(ax, 0.5, 20.5, pi_pus, pi_pus_se, '#a5202f')
ax.set_yticks([0.005, 0.010], ['0.05', '0.010'])
ax.set_ylabel(r'Nucleotide diversity ($\mathbfit{\pi}$)', fontsize=8.4, fontweight='bold', labelpad=2)

# ---- i
rows = []
for n, pat in geno_runs:
    rows += [pat] * n
code = {'P': 0, 'H': 1, 'E': 2, 'N': 3}
geno = np.array([[code[c] for c in r] for r in rows])
n_rows = len(rows)
TOP_I, BOT_I = 345.3, 756
geno_cmap = ListedColormap([C_PUS, C_HET, C_EXT, 'white'])
ax = axes_px(589.3, TOP_I, 735.3, BOT_I)
ax.imshow(geno, cmap=geno_cmap, vmin=0, vmax=3, aspect='auto', interpolation='nearest')
ax.axis('off')

ioi_rows = [np.nan] * 7 + ioi_top + ioi_hybrid
ioi_rows += [np.nan] * (n_rows - len(ioi_rows) - len(ioi_extoni)) + ioi_extoni
ioi_cmap = LinearSegmentedColormap.from_list('ioi', [C_PUS, C_HET, C_EXT])
ax = axes_px(576, TOP_I, 587.3, BOT_I)
ax.imshow(np.array(ioi_rows).reshape(-1, 1), cmap=ioi_cmap, vmin=0.45, vmax=0.6, aspect='auto', interpolation='nearest')
ax.axis('off')

ax = axes_px(742, TOP_I, 755.7, BOT_I)
ax.imshow(np.repeat([0, 1, 2], group_sizes).reshape(-1, 1), cmap=ListedColormap([C_PUS, C_HET, C_EXT]),
          aspect='auto', interpolation='nearest')
ax.axis('off')

# the dashed separators run over the heatmap and on to the group bar
over = axes_px(589.3, TOP_I, 755.7, BOT_I)
over.patch.set_alpha(0)
over.set_xlim(0, 1)
over.set_ylim(n_rows, 0)
over.axis('off')
for y in np.cumsum(group_sizes)[:2] - 0.7:
    over.plot([0, 0.92], [y, y], color='black', lw=0.9, ls=(0, (2.5, 1.5)))

text_px(581, 343, 'IOI', fontsize=8, rotation=60, rotation_mode='anchor', ha='left', va='bottom', color='#222222')
for i, name in enumerate(geno_markers):
    text_px(601.5 + 24.33 * i - 1, 343, name, fontsize=8, style='italic', rotation=60, rotation_mode='anchor',
            ha='left', va='bottom', color='#222222')

text_px(779, 362, 'Allopatric', fontsize=8.8, fontweight='bold', rotation=-90, ha='center')
text_px(763, 362, 'pusillus', fontsize=8.8, style='italic', fontweight='bold', rotation=-90, ha='center')
text_px(771, 542, 'Hybrid zone', fontsize=9, fontweight='bold', rotation=-90, ha='center')
text_px(779, 717, 'Allopatric', fontsize=8.8, fontweight='bold', rotation=-90, ha='center')
text_px(763, 717, 'extoni', fontsize=8.8, style='italic', fontweight='bold', rotation=-90, ha='center')

text_px(575.5, 769, 'IOI (s)', fontsize=9.5, fontweight='bold')
cb = axes_px(576, 780, 588.7, 833)
cb.imshow(np.linspace(0.6, 0.45, 60).reshape(-1, 1), cmap=ioi_cmap, vmin=0.45, vmax=0.6, aspect='auto')
cb.axis('off')
text_px(590.5, 790, '0.60', fontsize=8.5)
text_px(590.5, 828, '0.45', fontsize=8.5)

text_px(640.5, 769, 'Genotypes', fontsize=9.2, fontweight='bold')
for y, col, txt in [(787, C_PUS, 'Homozygous $\\mathit{pusillus}$'), (805, C_HET, 'Heterozygous'),
                    (826, C_EXT, 'Homozygous $\\mathit{extoni}$')]:
    fig.add_artist(Rectangle((637 / W, 1 - (y + 7) / H), 14.5 / W, 14.5 / H, transform=fig.transFigure, color=col, lw=0))
    text_px(654, y, txt, fontsize=8.8)

fig.savefig('out.png', dpi=100)
